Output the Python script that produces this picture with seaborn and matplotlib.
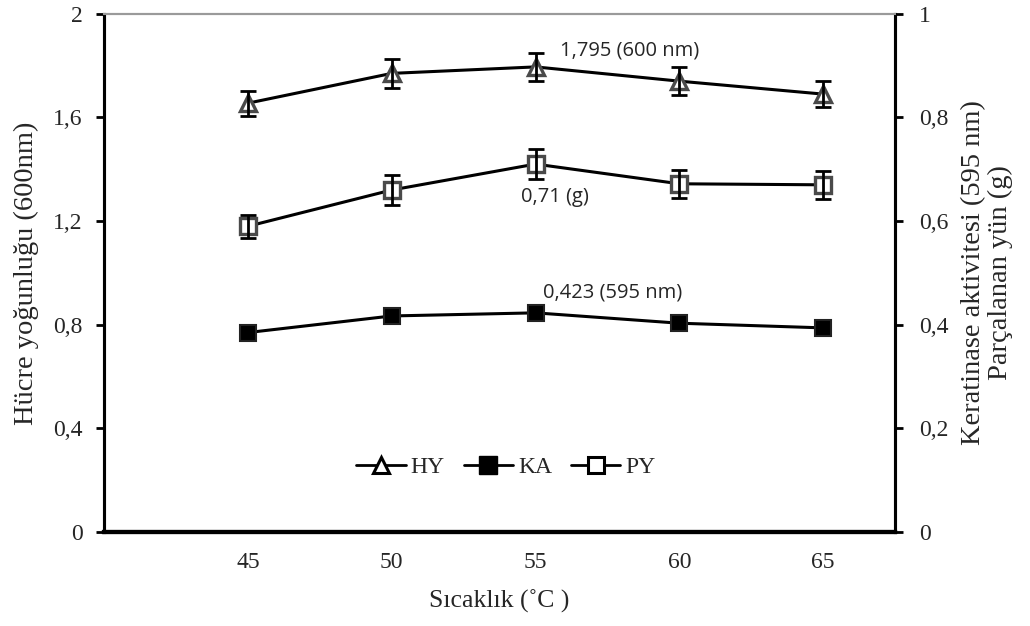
import matplotlib
matplotlib.use("Agg")
import matplotlib.pyplot as plt
import seaborn as sns
import pandas as pd
from matplotlib.lines import Line2D

# ---- data ----
temperature = [45, 50, 55, 60, 65]
hy_values = [1.655, 1.77, 1.795, 1.74, 1.69]       # left axis, cell density (600 nm)
hy_err = [0.048, 0.055, 0.055, 0.054, 0.05]
ka_values = [0.385, 0.417, 0.423, 0.403, 0.394]    # right axis, keratinase activity (595 nm)
ka_err = [0.005, 0.005, 0.005, 0.005, 0.005]
py_values = [0.59, 0.66, 0.71, 0.672, 0.67]        # right axis, degraded wool (g)
py_err = [0.022, 0.028, 0.029, 0.027, 0.027]
series_names = ["HY", "KA", "PY"]
left_ticks = [0, 0.4, 0.8, 1.2, 1.6, 2]
left_tick_labels = ["0", "0,4", "0,8", "1,2", "1,6", "2"]
right_ticks = [0, 0.2, 0.4, 0.6, 0.8, 1]
right_tick_labels = ["0", "0,2", "0,4", "0,6", "0,8", "1"]
x_ticks = [40, 45, 50, 55, 60, 65]
x_tick_labels = ["", "45", "50", "55", "60", "65"]
annotations = ["1,795 (600 nm)", "0,71 (g)", "0,423 (595 nm)"]

df_hy = pd.DataFrame({"T": temperature, "v": hy_values})
df_ka = pd.DataFrame({"T": temperature, "v": ka_values})
df_py = pd.DataFrame({"T": temperature, "v": py_values})

sns.set_style("white")
plt.rcParams["font.family"] = ["Liberation Serif", "DejaVu Serif"]

fig = plt.figure(figsize=(10.30, 6.26), dpi=100)
ax = fig.add_axes([0.101, 0.150, 0.768, 0.828])
ax2 = ax.twinx()

edge_grey = "#4a4a4a"

# HY on left axis
sns.lineplot(data=df_hy, x="T", y="v", ax=ax, color="black", linewidth=2.2,
             marker="^", markersize=11, markerfacecolor="white",
             markeredgecolor=edge_grey, markeredgewidth=2.4, zorder=3)
ax.errorbar(temperature, hy_values, yerr=hy_err, fmt="none", ecolor="black",
            elinewidth=2.0, capsize=5.5, capthick=2.0, zorder=4)

# KA and PY on right axis
sns.lineplot(data=df_ka, x="T", y="v", ax=ax2, color="black", linewidth=2.2,
             marker="s", markersize=11, markerfacecolor="black",
             markeredgecolor="#222222", markeredgewidth=1.5, zorder=3)
ax2.errorbar(temperature, ka_values, yerr=ka_err, fmt="none", ecolor="black",
             elinewidth=1.8, capsize=5, capthick=1.8, zorder=2)
sns.lineplot(data=df_py, x="T", y="v", ax=ax2, color="black", linewidth=2.2,
             marker="s", markersize=11, markerfacecolor="white",
             markeredgecolor=edge_grey, markeredgewidth=2.4, zorder=3)
ax2.errorbar(temperature, py_values, yerr=py_err, fmt="none", ecolor="black",
             elinewidth=2.0, capsize=5.5, capthick=2.0, zorder=4)

# axes limits and ticks
ax.set_xlim(40, 67.5)
ax.set_ylim(0, 2)
ax2.set_ylim(0, 1)
ax.set_xticks(x_ticks)
ax.set_xticklabels(x_tick_labels)
ax.set_yticks(left_ticks)
ax.set_yticklabels(left_tick_labels)
ax2.set_yticks(right_ticks)
ax2.set_yticklabels(right_tick_labels)

for a in (ax, ax2):
    a.tick_params(axis="both", direction="out", length=5.5, width=2.0,
                  labelsize=17, color="black", pad=10)
ax.tick_params(axis="x", pad=9)
ax2.tick_params(axis="y", pad=12)

ax.set_xlabel("Sıcaklık (˚C )", fontsize=18.5, labelpad=12)
ax.set_ylabel("Hücre yoğunluğu (600nm)", fontsize=20.5, labelpad=10)
ax2.set_ylabel("Keratinase aktivitesi (595 nm)\nParçalanan yün (g)", fontsize=20.5,
               labelpad=9, linespacing=1.05)

# spines
for a in (ax, ax2):
    a.spines["top"].set_color("#9a9a9a")
    a.spines["top"].set_linewidth(1.5)
    a.spines["left"].set_color("black")
    a.spines["left"].set_linewidth(2.2)
    a.spines["right"].set_color("black")
    a.spines["right"].set_linewidth(2.2)
    a.spines["bottom"].set_color("black")
    a.spines["bottom"].set_linewidth(3.0)
ax.grid(False)
ax2.grid(False)
ax.set_zorder(ax2.get_zorder() + 1)
ax.patch.set_visible(False)

# annotations
ann_font = ["Open Sans", "DejaVu Sans"]
ax.text(55.85, 1.86, annotations[0], fontsize=14.5, family=ann_font, va="center", ha="left")
ax2.text(54.5, 0.647, annotations[1], fontsize=14.5, family=ann_font, va="center", ha="left")
ax2.text(55.25, 0.463, annotations[2], fontsize=14.5, family=ann_font, va="center", ha="left")

# legend
handles = [
    Line2D([], [], color="black", lw=2.0, marker="^", markersize=11,
           markerfacecolor="white", markeredgecolor="black", markeredgewidth=2.2),
    Line2D([], [], color="black", lw=2.0, marker="s", markersize=13,
           markerfacecolor="black", markeredgecolor="black"),
    Line2D([], [], color="black", lw=2.0, marker="s", markersize=11,
           markerfacecolor="white", markeredgecolor="black", markeredgewidth=2.2),
]
leg = ax.legend(handles, series_names, loc="center", bbox_to_anchor=(0.508, 0.125),
                ncol=3, frameon=False, fontsize=17, handlelength=2.1,
                handletextpad=0.2, columnspacing=0.8)

fig.savefig("out.png", dpi=100)
